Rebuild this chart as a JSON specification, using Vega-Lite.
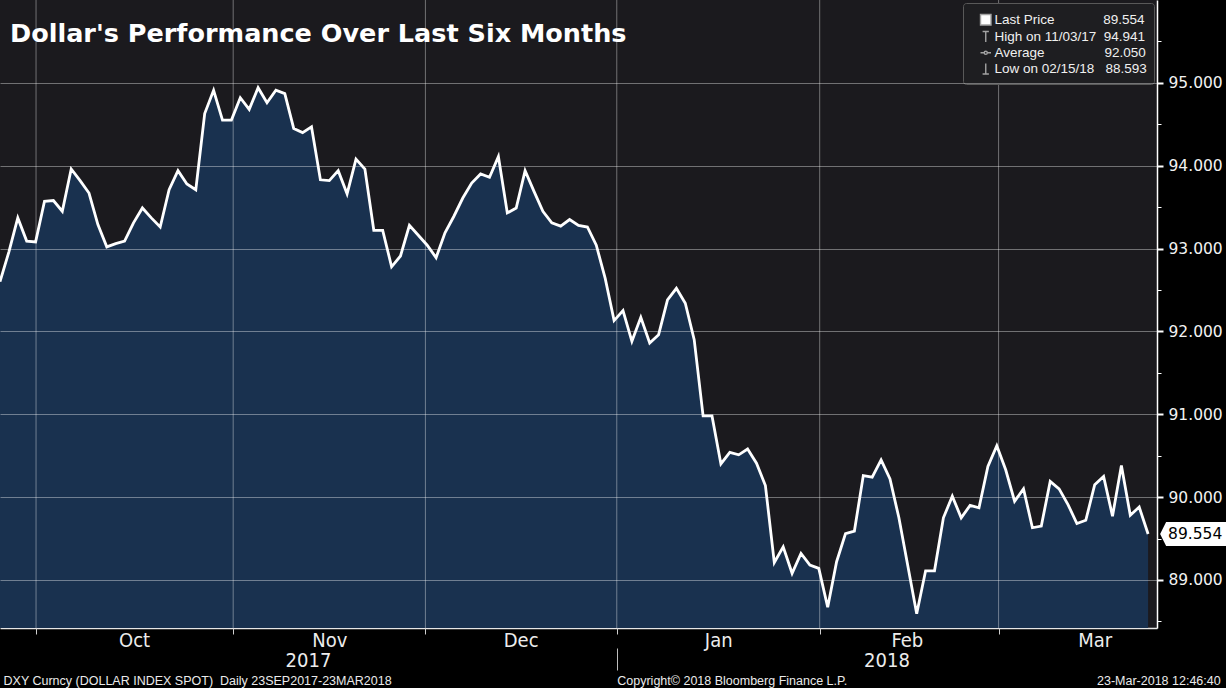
{
  "$schema": "https://vega.github.io/schema/vega-lite/v6.json",
  "width": 1157,
  "height": 628,
  "padding": {"left": 0, "top": 0, "right": 69, "bottom": 60},
  "autosize": {"type": "none"},
  "background": "#000000",
  "view": {"fill": "#1b1a1e", "stroke": null},
  "title": {
    "text": "Dollar's Performance Over Last Six Months",
    "anchor": "start",
    "frame": "group",
    "orient": "top",
    "baseline": "alphabetic",
    "offset": -68,
    "dx": 10,
    "font": "DejaVu Sans",
    "fontSize": 25.5,
    "fontWeight": "bold",
    "color": "#ffffff"
  },
  "datasets": {
    "dxy": [
      {"day": 0, "value": 92.60}, {"day": 1, "value": 92.96}, {"day": 2, "value": 93.37}, {"day": 3, "value": 93.09},
      {"day": 4, "value": 93.08}, {"day": 5, "value": 93.57}, {"day": 6, "value": 93.58}, {"day": 7, "value": 93.45},
      {"day": 8, "value": 93.96}, {"day": 9, "value": 93.82}, {"day": 10, "value": 93.67}, {"day": 11, "value": 93.29},
      {"day": 12, "value": 93.02}, {"day": 13, "value": 93.06}, {"day": 14, "value": 93.09}, {"day": 15, "value": 93.31},
      {"day": 16, "value": 93.49}, {"day": 17, "value": 93.37}, {"day": 18, "value": 93.26}, {"day": 19, "value": 93.71},
      {"day": 20, "value": 93.94}, {"day": 21, "value": 93.78}, {"day": 22, "value": 93.71}, {"day": 23, "value": 94.63},
      {"day": 24, "value": 94.91}, {"day": 25, "value": 94.55}, {"day": 26, "value": 94.55}, {"day": 27, "value": 94.82},
      {"day": 28, "value": 94.68}, {"day": 29, "value": 94.941}, {"day": 30, "value": 94.76}, {"day": 31, "value": 94.91},
      {"day": 32, "value": 94.87}, {"day": 33, "value": 94.45}, {"day": 34, "value": 94.40}, {"day": 35, "value": 94.47},
      {"day": 36, "value": 93.83}, {"day": 37, "value": 93.82}, {"day": 38, "value": 93.94}, {"day": 39, "value": 93.66},
      {"day": 40, "value": 94.08}, {"day": 41, "value": 93.96}, {"day": 42, "value": 93.22}, {"day": 43, "value": 93.22},
      {"day": 44, "value": 92.78}, {"day": 45, "value": 92.91}, {"day": 46, "value": 93.28}, {"day": 47, "value": 93.16},
      {"day": 48, "value": 93.04}, {"day": 49, "value": 92.89}, {"day": 50, "value": 93.19}, {"day": 51, "value": 93.39},
      {"day": 52, "value": 93.61}, {"day": 53, "value": 93.79}, {"day": 54, "value": 93.90}, {"day": 55, "value": 93.86},
      {"day": 56, "value": 94.11}, {"day": 57, "value": 93.43}, {"day": 58, "value": 93.49}, {"day": 59, "value": 93.94},
      {"day": 60, "value": 93.69}, {"day": 61, "value": 93.45}, {"day": 62, "value": 93.31}, {"day": 63, "value": 93.27},
      {"day": 64, "value": 93.35}, {"day": 65, "value": 93.28}, {"day": 66, "value": 93.26}, {"day": 67, "value": 93.04},
      {"day": 68, "value": 92.64}, {"day": 69, "value": 92.13}, {"day": 70, "value": 92.25}, {"day": 71, "value": 91.88},
      {"day": 72, "value": 92.17}, {"day": 73, "value": 91.86}, {"day": 74, "value": 91.96}, {"day": 75, "value": 92.38},
      {"day": 76, "value": 92.52}, {"day": 77, "value": 92.34}, {"day": 78, "value": 91.90}, {"day": 79, "value": 90.98},
      {"day": 80, "value": 90.98}, {"day": 81, "value": 90.40}, {"day": 82, "value": 90.54}, {"day": 83, "value": 90.51},
      {"day": 84, "value": 90.58}, {"day": 85, "value": 90.41}, {"day": 86, "value": 90.14}, {"day": 87, "value": 89.21},
      {"day": 88, "value": 89.40}, {"day": 89, "value": 89.08}, {"day": 90, "value": 89.32}, {"day": 91, "value": 89.18},
      {"day": 92, "value": 89.14}, {"day": 93, "value": 88.67}, {"day": 94, "value": 89.22}, {"day": 95, "value": 89.56},
      {"day": 96, "value": 89.59}, {"day": 97, "value": 90.26}, {"day": 98, "value": 90.24}, {"day": 99, "value": 90.45},
      {"day": 100, "value": 90.22}, {"day": 101, "value": 89.75}, {"day": 102, "value": 89.17}, {"day": 103, "value": 88.593},
      {"day": 104, "value": 89.11}, {"day": 105, "value": 89.11}, {"day": 106, "value": 89.75}, {"day": 107, "value": 90.01},
      {"day": 108, "value": 89.75}, {"day": 109, "value": 89.90}, {"day": 110, "value": 89.87}, {"day": 111, "value": 90.37},
      {"day": 112, "value": 90.62}, {"day": 113, "value": 90.33}, {"day": 114, "value": 89.95}, {"day": 115, "value": 90.10},
      {"day": 116, "value": 89.63}, {"day": 117, "value": 89.65}, {"day": 118, "value": 90.19}, {"day": 119, "value": 90.10},
      {"day": 120, "value": 89.91}, {"day": 121, "value": 89.68}, {"day": 122, "value": 89.72}, {"day": 123, "value": 90.15},
      {"day": 124, "value": 90.25}, {"day": 125, "value": 89.77}, {"day": 126, "value": 90.38}, {"day": 127, "value": 89.78},
      {"day": 128, "value": 89.88}, {"day": 129, "value": 89.554}
    ],
    "bounds": [{"day": 4.05}, {"day": 26.2}, {"day": 47.8}, {"day": 69.3}, {"day": 92.1}, {"day": 112.2}],
    "years": [{"day": 34.6, "year": "2017"}, {"day": 99.6, "year": "2018"}],
    "yearsep": [{"day": 69.3}],
    "footer": [
      {"day": 0.34, "text": "DXY Curncy (DOLLAR INDEX SPOT)  Daily 23SEP2017-23MAR2018"},
      {"day": 69.3, "text": "Copyright© 2018 Bloomberg Finance L.P."},
      {"day": 123.2, "text": "23-Mar-2018 12:46:40"}
    ],
    "stats": [
      {"stat": "Last Price", "day": 129, "value": 89.554},
      {"stat": "High on 11/03/17", "day": 29, "value": 94.941},
      {"stat": "Average", "day": 64.5, "value": 92.050},
      {"stat": "Low on 02/15/18", "day": 103, "value": 88.593}
    ],
    "last": [{"day": 129, "value": 89.554, "label": "89.554"}]
  },
  "layer": [
    {
      "data": {"name": "dxy"},
      "mark": {"type": "area", "color": "#19314f", "opacity": 1, "clip": true, "line": {"color": "#ffffff", "strokeWidth": 2.8}},
      "encoding": {
        "x": {
          "field": "day", "type": "quantitative",
          "scale": {"domain": [0, 130], "nice": false, "zero": false},
          "axis": {
            "orient": "bottom", "values": [15.06, 37.0, 58.5, 80.7, 101.9, 123.0],
            "labelExpr": "datum.value < 20 ? 'Oct' : datum.value < 45 ? 'Nov' : datum.value < 70 ? 'Dec' : datum.value < 90 ? 'Jan' : datum.value < 110 ? 'Feb' : 'Mar'",
            "grid": false, "ticks": false, "domain": true, "domainColor": "#e6e6e6", "domainWidth": 1.5,
            "labelColor": "#ececec", "labelFont": "'Liberation Sans Narrow', 'DejaVu Sans Condensed', 'Liberation Sans'", "labelFontSize": 20, "labelPadding": 2,
            "labelFlush": false, "labelOverlap": false, "title": null
          }
        },
        "y": {
          "field": "value", "type": "quantitative",
          "scale": {"domain": [88.42, 96.0], "nice": false, "zero": false},
          "axis": {
            "orient": "right", "values": [89, 90, 91, 92, 93, 94, 95], "format": ".3f",
            "grid": true, "gridColor": "#ffffff", "gridOpacity": 0.38, "gridWidth": 1,
            "tickSize": 6, "tickWidth": 2, "tickColor": "#ffffff",
            "domainColor": "#ffffff", "domainWidth": 1.5,
            "labelColor": "#f2f2f2", "labelFont": "DejaVu Sans", "labelFontSize": 15.5, "labelPadding": 5,
            "labelFlush": false, "labelOverlap": false, "title": null, "zindex": 1
          }
        }
      }
    },
    {
      "data": {"name": "bounds"},
      "mark": {"type": "rule", "color": "#ffffff", "opacity": 0.38, "strokeWidth": 1},
      "encoding": {
        "x": {
          "field": "day", "type": "quantitative",
          "scale": {"domain": [0, 130], "nice": false, "zero": false},
          "axis": {
            "orient": "bottom", "values": [4.05, 26.2, 47.8, 69.3, 92.1, 112.2],
            "labels": false, "ticks": true, "tickSize": 6, "tickColor": "#cfcfcf", "tickWidth": 1,
            "domain": false, "grid": false, "title": null
          }
        }
      }
    },
    {
      "data": {"name": "years"},
      "mark": {"type": "point", "opacity": 0, "size": 0, "strokeWidth": 0},
      "encoding": {
        "x": {
          "field": "day", "type": "quantitative",
          "scale": {"domain": [0, 130], "nice": false, "zero": false},
          "axis": {
            "orient": "bottom", "offset": 21, "values": [34.6, 99.6],
            "labelExpr": "datum.value < 60 ? '2017' : '2018'",
            "ticks": false, "domain": false, "grid": false,
            "labelColor": "#ececec", "labelFont": "'Liberation Sans Narrow', 'DejaVu Sans Condensed', 'Liberation Sans'", "labelFontSize": 20, "labelPadding": 1,
            "labelFlush": false, "labelOverlap": false, "title": null
          }
        }
      }
    },
    {
      "data": {"name": "yearsep"},
      "mark": {"type": "point", "opacity": 0, "size": 0, "strokeWidth": 0},
      "encoding": {
        "x": {
          "field": "day", "type": "quantitative",
          "scale": {"domain": [0, 130], "nice": false, "zero": false},
          "axis": {
            "orient": "bottom", "offset": 20, "values": [69.3],
            "labels": false, "ticks": true, "tickSize": 22, "tickColor": "#bdbdbd", "tickWidth": 1,
            "domain": false, "grid": false, "title": null
          }
        }
      }
    },
    {
      "data": {"name": "footer"},
      "mark": {"type": "point", "opacity": 0, "size": 0, "strokeWidth": 0},
      "encoding": {
        "x": {
          "field": "day", "type": "quantitative",
          "scale": {"domain": [0, 130], "nice": false, "zero": false},
          "axis": {
            "orient": "bottom", "offset": 44, "values": [0.34, 69.3, 123.2],
            "labelExpr": "datum.value < 10 ? 'DXY Curncy (DOLLAR INDEX SPOT) \u00a0Daily 23SEP2017-23MAR2018' : datum.value < 100 ? 'Copyright© 2018 Bloomberg Finance L.P.' : '23-Mar-2018 12:46:40'",
            "labelAlign": "left", "ticks": false, "domain": false, "grid": false,
            "labelColor": "#ebebeb", "labelFont": "Liberation Sans", "labelFontSize": 12.5, "labelPadding": 2,
            "labelFlush": false, "labelOverlap": false, "labelLimit": 0, "title": null
          }
        }
      }
    },
    {
      "data": {"name": "dxy"},
      "mark": {"type": "point", "opacity": 0, "size": 0, "strokeWidth": 0},
      "encoding": {
        "y": {
          "field": "value", "type": "quantitative",
          "scale": {"domain": [88.42, 96.0], "nice": false, "zero": false},
          "axis": {
            "orient": "right", "values": [88.5, 89.5, 90.5, 91.5, 92.5, 93.5, 94.5, 95.5],
            "labels": false, "ticks": true, "tickSize": 4, "tickWidth": 1, "tickColor": "#ffffff",
            "domain": false, "grid": false, "title": null
          }
        }
      }
    },
    {
      "data": {"name": "stats"},
      "mark": {"type": "point", "opacity": 0, "filled": true},
      "encoding": {
        "x": {"field": "day", "type": "quantitative", "scale": {"domain": [0, 130], "nice": false, "zero": false}, "axis": null},
        "y": {"field": "value", "type": "quantitative", "scale": {"domain": [88.42, 96.0], "nice": false, "zero": false}, "axis": null},
        "color": {
          "field": "stat", "type": "nominal",
          "scale": {"domain": ["Last Price", "High on 11/03/17", "Average", "Low on 02/15/18"], "range": ["#ffffff", "#1e1e21", "#1e1e21", "#1e1e21"]},
          "legend": {
            "title": "\u00a0",
            "labelExpr": "datum.label == 'Last Price' ? 'Last Price\u00a0\u00a0\u00a0\u00a0\u00a0\u00a0\u00a0\u00a0\u00a0\u00a0\u00a0\u00a0\u00a089.554' : datum.label == 'Average' ? 'Average\u00a0\u00a0\u00a0\u00a0\u00a0\u00a0\u00a0\u00a0\u00a0\u00a0\u00a0\u00a0\u00a0\u00a0\u00a0\u00a092.050' : datum.label == 'High on 11/03/17' ? 'High on 11/03/17\u00a0\u00a094.941' : 'Low on 02/15/18\u00a0\u00a0\u00a088.593'",
            "encode": {"symbols": {"update": {"stroke": {"value": "#a3a3a3"}, "strokeWidth": {"value": 1.4}, "opacity": {"value": 1}}}}
          }
        },
        "shape": {
          "field": "stat", "type": "nominal",
          "scale": {"domain": ["Last Price", "High on 11/03/17", "Average", "Low on 02/15/18"], "range": ["square", "M-0.6,-1L0.6,-1M0,-1L0,1", "M-1,0L-0.3,0M0.3,0L1,0M-0.3,0A0.3,0.3 0 1,0 0.3,0A0.3,0.3 0 1,0 -0.3,0Z", "M0,-1L0,1M-0.6,1L0.6,1"]},
          "legend": {
            "title": "\u00a0",
            "labelExpr": "datum.label == 'Last Price' ? 'Last Price\u00a0\u00a0\u00a0\u00a0\u00a0\u00a0\u00a0\u00a0\u00a0\u00a0\u00a0\u00a0\u00a089.554' : datum.label == 'Average' ? 'Average\u00a0\u00a0\u00a0\u00a0\u00a0\u00a0\u00a0\u00a0\u00a0\u00a0\u00a0\u00a0\u00a0\u00a0\u00a0\u00a092.050' : datum.label == 'High on 11/03/17' ? 'High on 11/03/17\u00a0\u00a094.941' : 'Low on 02/15/18\u00a0\u00a0\u00a088.593'",
            "encode": {"symbols": {"update": {"stroke": {"value": "#a3a3a3"}, "strokeWidth": {"value": 1.4}, "opacity": {"value": 1}}}}
          }
        }
      }
    },
    {
      "data": {"name": "last"},
      "mark": {"type": "point", "shape": "M0.15,0L0.225,-0.15L0.975,-0.15L0.975,0.15L0.225,0.15Z", "size": 25600, "filled": true, "color": "#ffffff", "opacity": 1},
      "encoding": {
        "x": {"field": "day", "type": "quantitative", "scale": {"domain": [0, 130], "nice": false, "zero": false}, "axis": null},
        "y": {"field": "value", "type": "quantitative", "scale": {"domain": [88.42, 96.0], "nice": false, "zero": false}, "axis": null}
      }
    },
    {
      "data": {"name": "last"},
      "mark": {"type": "text", "align": "left", "baseline": "middle", "dx": 20, "font": "DejaVu Sans", "fontSize": 15.5, "color": "#000000"},
      "encoding": {
        "x": {"field": "day", "type": "quantitative", "scale": {"domain": [0, 130], "nice": false, "zero": false}, "axis": null},
        "y": {"field": "value", "type": "quantitative", "scale": {"domain": [88.42, 96.0], "nice": false, "zero": false}, "axis": null},
        "text": {"field": "label"}
      }
    }
  ],
  "resolve": {"axis": {"x": "independent", "y": "independent"}},
  "config": {
    "legend": {
      "orient": "top-right",
      "offset": 3,
      "fillColor": "#1e1e21",
      "strokeColor": "#595959",
      "cornerRadius": 3,
      "padding": 7,
      "titleFontSize": 1,
      "titlePadding": 2,
      "titleColor": "#1e1e21",
      "labelFont": "Liberation Sans",
      "labelFontSize": 13.5,
      "labelColor": "#f0f0f0",
      "labelLimit": 400,
      "symbolSize": 110,
      "symbolOpacity": 1,
      "symbolStrokeWidth": 1.4,
      "symbolStrokeColor": "#a3a3a3",
      "rowPadding": 0,
      "labelOffset": 2,
      "symbolOffset": 9
    }
  }
}
